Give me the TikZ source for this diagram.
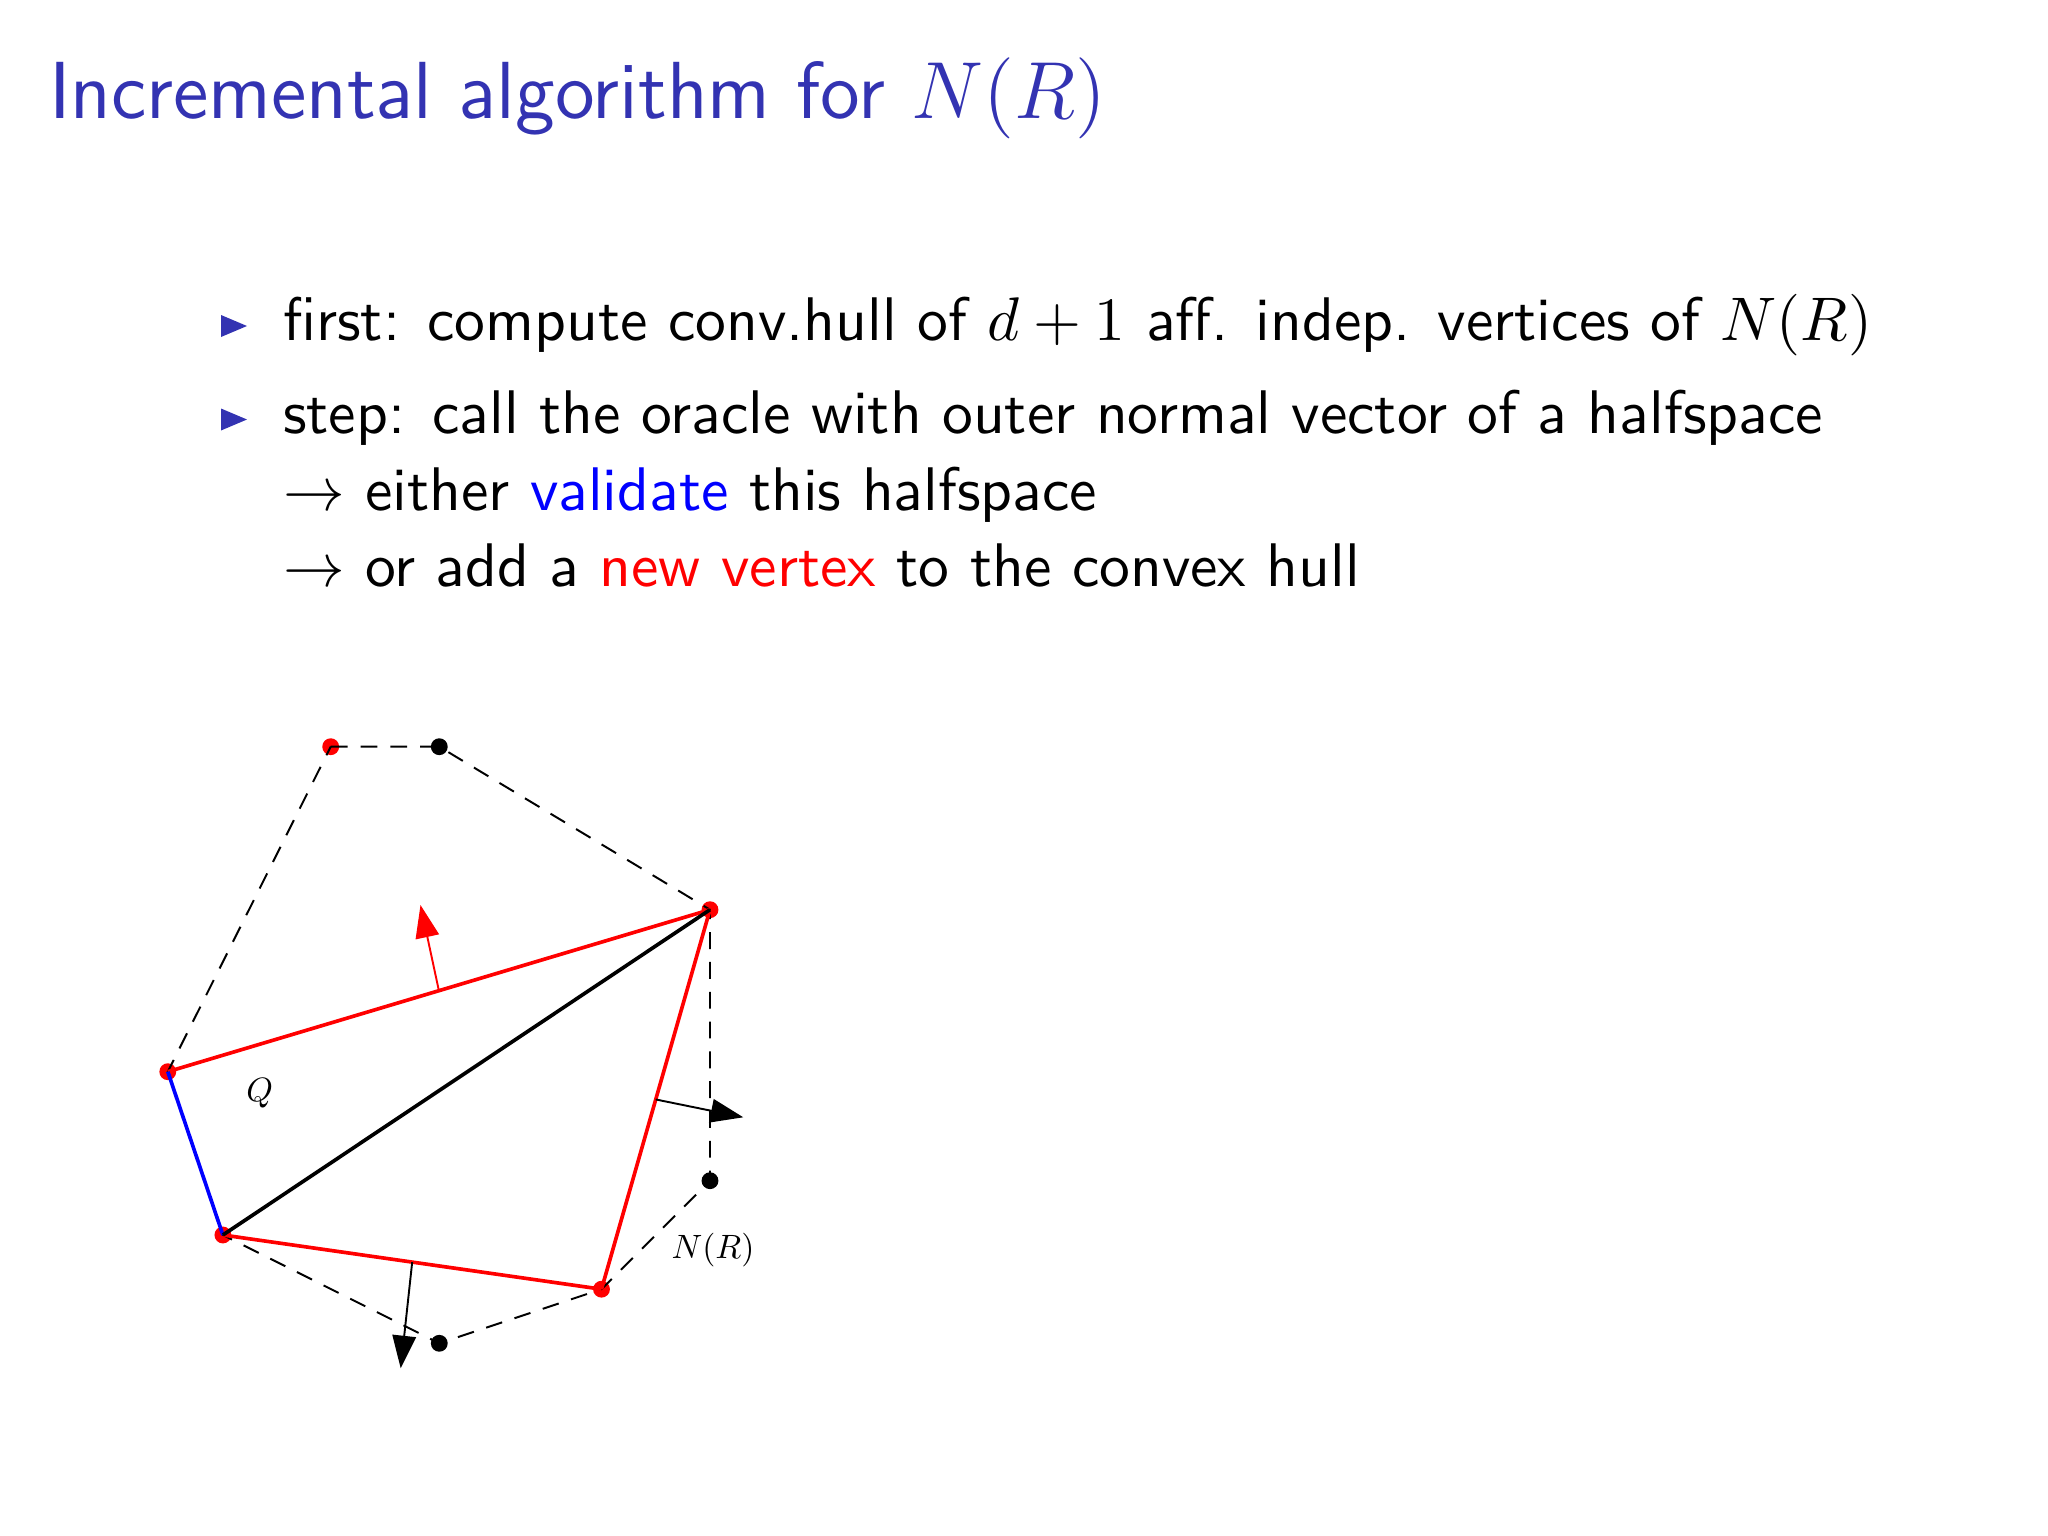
\documentclass[tikz,border=0pt]{standalone}
\usepackage{fix-cm}
\usepackage{graphicx}
\usetikzlibrary{arrows.meta,calc}
\definecolor{struct}{rgb}{0.2,0.2,0.7}
\tikzset{
  vdot/.style={circle,inner sep=0pt,minimum size=3pt,fill=#1},
  hull/.style={line width=0.35pt,dash pattern=on 3pt off 2.3pt},
  edge/.style={line width=0.65pt,draw=#1},
  normal/.style={line width=0.34pt,draw=#1,-{Triangle[length=5.8pt,width=4.2pt]},fill=#1},
  bodytext/.style={anchor=base west,inner sep=0pt,font=\fontsize{10.95}{13.6}\selectfont\sffamily},
  lbl/.style={inner sep=0pt,font=\fontsize{10}{12}\selectfont}
}
\begin{document}
\begin{tikzpicture}[x=0.0625mm,y=-0.0625mm]
\useasboundingbox (0,0) rectangle (2048,1536);
% title
\node[anchor=base west,inner sep=0pt,text=struct,font=\fontsize{14.4}{17}\selectfont\sffamily] (title) at (48,119) {Incremental algorithm for $N(R)$};
% bullets
\fill[struct] (221,315) -- (247,326) -- (221,337) -- cycle;
\fill[struct] (221,408.5) -- (247,419.5) -- (221,430.5) -- cycle;
\node[bodytext] (l1) at (282,340) {first: compute conv.hull of $d+1$ aff. indep. vertices of $N(R)$};
\node[bodytext] (l2) at (282,433) {step: call the oracle with outer normal vector of a halfspace};
\node[bodytext] (l3) at (282,510) {$\rightarrow$ either \textcolor{blue}{validate} this halfspace};
\node[bodytext] (l4) at (282,586.5) {$\rightarrow$ or add a \textcolor{red}{new vertex} to the convex hull};
% vertices
\node[vdot=red] (T1) at (330.7,746.7) {};
\node[vdot=black] (T2) at (439.3,746.7) {};
\node[vdot=red] (R1) at (710,909.7) {};
\node[vdot=black] (R2) at (710,1180.7) {};
\node[vdot=red] (B1) at (601.5,1289.2) {};
\node[vdot=black] (B2) at (439.3,1343.3) {};
\node[vdot=red] (L2) at (222.9,1235) {};
\node[vdot=red] (L1) at (167.8,1071.7) {};
% dashed hull N(R)
\draw[hull] (T1.center) -- (T2.center) -- (R1.center) -- (R2.center) -- (B1.center) -- (B2.center) -- (L2.center) -- (L1.center) -- cycle;
% Q edges
\draw[edge=red] (L1.center) -- (R1.center);
\draw[edge=red] (R1.center) -- (B1.center);
\draw[edge=red] (B1.center) -- (L2.center);
\draw[edge=blue] (L2.center) -- (L1.center);
\draw[edge=black] (L2.center) -- (R1.center);
% normals
\coordinate (m1) at ($(L1)!0.5!(R1)$);
\coordinate (m2) at ($(R1)!0.5!(B1)$);
\coordinate (m3) at ($(L2)!0.5!(B1)$);
\coordinate (n1) at (420.5,905);
\coordinate (n2) at (743.3,1117.3);
\coordinate (n3) at (400.7,1368.3);
\draw[normal=red] (m1) -- (n1);
\draw[normal=black] (m2) -- (n2);
\draw[normal=black] (m3) -- (n3);
% labels
\node[lbl] (Q) at (259.7,1093) {\scalebox{0.6}{$Q$}};
\node[lbl] (NR) at (713,1249.7) {\scalebox{0.6}{$N(R)$}};
\end{tikzpicture}
\end{document}
